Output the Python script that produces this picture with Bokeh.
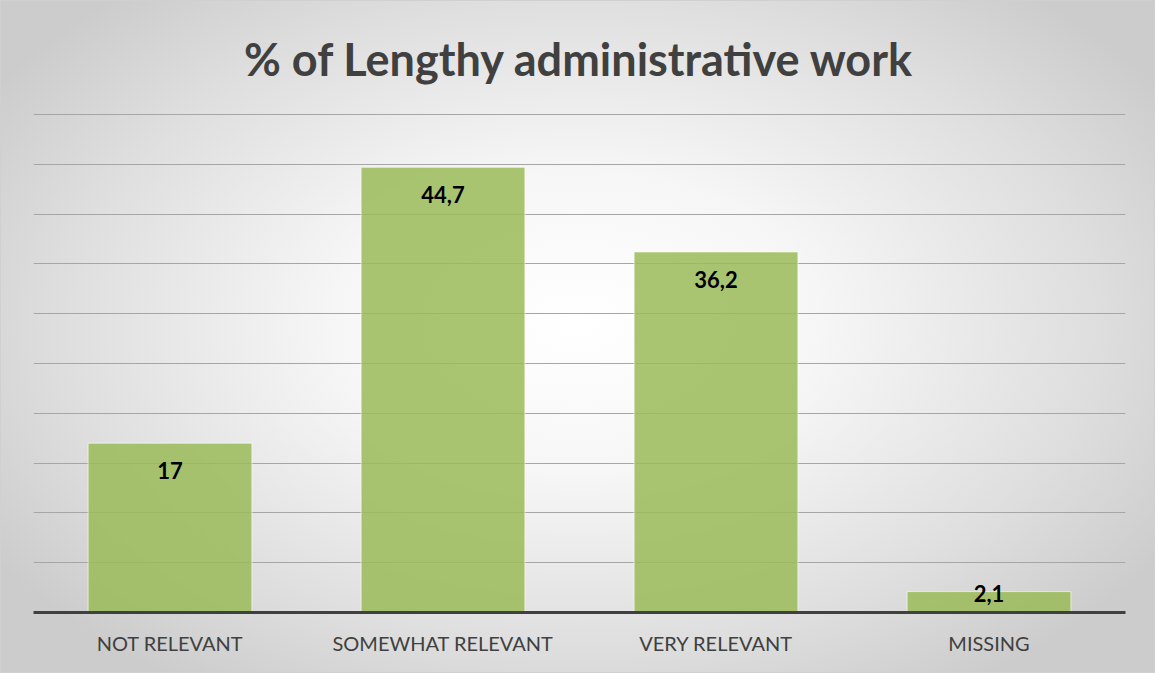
from bokeh.plotting import figure
from bokeh.models import ColumnDataSource, FixedTicker, Range1d
from bokeh.embed import file_html
from bokeh.resources import INLINE
from bokeh.core.properties import value

categories = ["NOT RELEVANT", "SOMEWHAT RELEVANT", "VERY RELEVANT", "MISSING"]
values = [17, 44.7, 36.2, 2.1]
value_labels = ["17", "44,7", "36,2", "2,1"]
grid_ticks = [5, 10, 15, 20, 25, 30, 35, 40, 45, 50]

W, H = 1155, 673
top_border, bottom_border = 113, 61
frame_h = H - top_border - bottom_border
ymax = 50.1
px_per_unit = frame_h / ymax
# label position: ~20px below bar top, but never closer than 28px to the baseline
offsets = [min(19, v * px_per_unit - 28) for v in values]

src = ColumnDataSource(dict(cat=categories, val=values, lab=value_labels, off=offsets))

p = figure(width=W, height=H, x_range=categories, y_range=Range1d(0, ymax),
           output_backend="svg", toolbar_location=None,
           min_border_left=33, min_border_right=30,
           min_border_top=top_border, min_border_bottom=bottom_border)
p.styles = {"background": "radial-gradient(ellipse 60% 65% at 50% 48%, #ffffff 0%, #f6f6f6 35%, #dedede 75%, #cccccc 100%)",
            "box-shadow": "inset 0 0 0 1px #d0d0d0"}
p.background_fill_alpha = 0
p.border_fill_alpha = 0
p.outline_line_color = None

p.title.text = "% of Lengthy administrative work"
p.title.align = "center"
p.title.text_font = "Lato"
p.title.text_font_style = "bold"
p.title.text_font_size = "45px"
p.title.text_color = "#404040"
p.title.offset = 0
p.title.standoff = 56

p.vbar(x="cat", top="val", width=0.6, source=src,
       fill_color="#9bbb59", fill_alpha=0.85,
       line_color="#ffffff", line_alpha=0.6, line_width=1)

p.text(x="cat", y="val", text="lab", source=src, y_offset="off",
       text_align="center", text_baseline="top",
       text_font=value("Lato"), text_font_style="bold",
       text_font_size="22px", text_color="#000000")

p.yaxis.visible = False
p.ygrid.ticker = FixedTicker(ticks=grid_ticks)
p.ygrid.grid_line_color = "#a6a6a6"
p.ygrid.grid_line_width = 1
p.xgrid.grid_line_color = None

p.xaxis.axis_line_color = "#404040"
p.xaxis.axis_line_width = 3
p.xaxis.major_tick_line_color = None
p.xaxis.minor_tick_line_color = None
p.xaxis.major_label_text_font = "Lato"
p.xaxis.major_label_text_font_size = "20px"
p.xaxis.major_label_text_color = "#404040"
p.xaxis.major_label_standoff = 12
p.x_range.range_padding = 0

open("out.html", "w").write(file_html(p, INLINE))
